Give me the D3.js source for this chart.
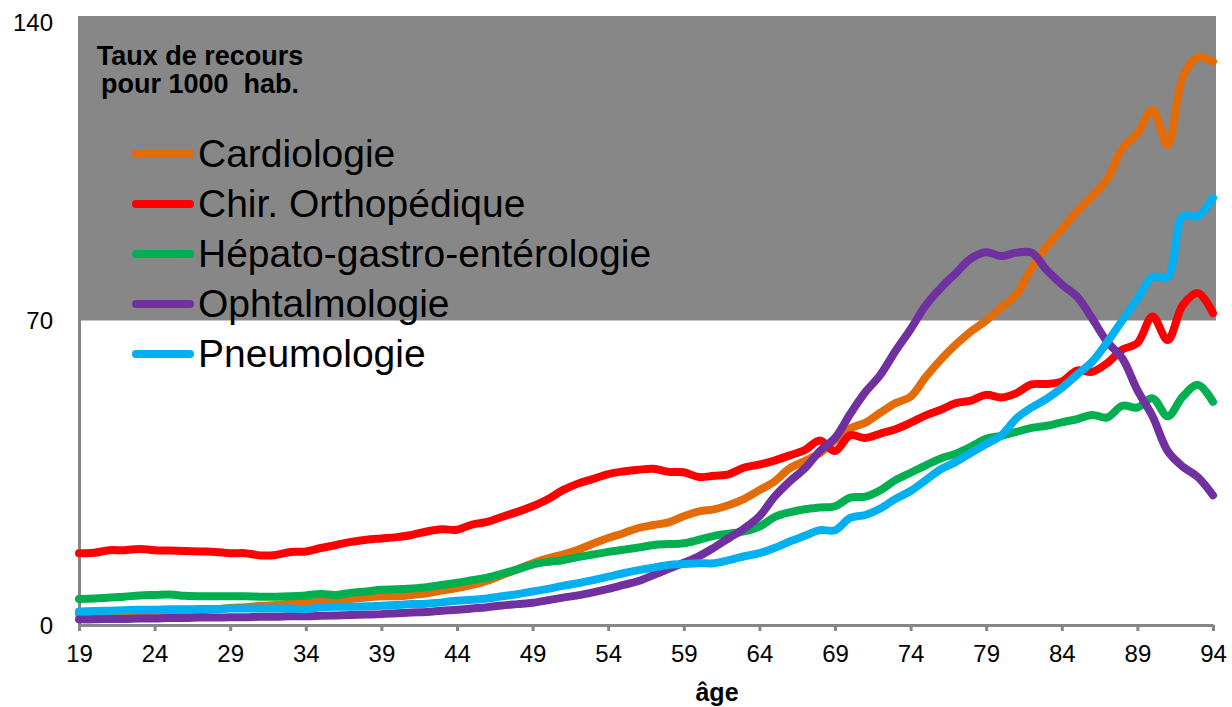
<!DOCTYPE html>
<html lang="fr">
<head>
<meta charset="UTF-8">
<title>Taux de recours par âge</title>
<script src="https://cdnjs.cloudflare.com/ajax/libs/d3/7.8.5/d3.min.js"></script>
<style>
    body { margin: 0; background: #fff; }
    svg { display: block; font-family: "Liberation Sans", Arial, sans-serif; }
</style>
</head>
<body>
<svg id="chart" width="1232" height="707"></svg>
<script>
// ages 19..94
const ages = d3.range(19, 95);

const cardiologie = [2.5, 2.6, 2.7, 2.8, 2.9, 3.0, 3.1, 3.2, 3.4, 3.6,
    3.9, 4.1, 4.4, 4.6, 4.9, 5.1, 5.4, 5.7, 6.0, 6.3,
    6.6, 6.6, 6.9, 7.3, 7.9, 8.5, 9.2, 10.2, 11.5, 12.8,
    14.2, 15.3, 16.2, 17.3, 18.7, 20.0, 21.1, 22.3, 23.0, 23.6,
    25.0, 26.1, 26.6, 27.6, 29.0, 31.0, 33.0, 36.0, 37.7, 39.5,
    42.5, 45.2, 46.5, 48.8, 51.0, 52.5, 57.0, 61.0, 64.5, 67.5,
    70.0, 73.0, 76.0, 82.0, 87.0, 91.0, 95.0, 98.5, 102.5, 109.5,
    113.0, 118.4, 110.3, 126.0, 130.5, 129.5];

const chirOrtho = [16.5, 16.6, 17.2, 17.2, 17.5, 17.2, 17.1, 17.0, 16.9, 16.8,
    16.5, 16.5, 16.0, 16.1, 16.8, 16.9, 17.7, 18.4, 19.1, 19.6,
    19.9, 20.2, 20.7, 21.5, 22.0, 21.9, 23.1, 23.7, 24.9, 26.0,
    27.3, 28.9, 31.0, 32.5, 33.6, 34.7, 35.3, 35.7, 35.9, 35.2,
    35.1, 34.0, 34.3, 34.7, 36.2, 36.9, 37.8, 39.0, 40.2, 42.4,
    40.0, 43.6, 43.0, 44.0, 45.0, 46.5, 48.2, 49.5, 51.0, 51.6,
    52.9, 52.3, 53.3, 55.3, 55.4, 56.0, 58.5, 58.2, 60.2, 63.3,
    64.8, 70.9, 65.5, 73.5, 76.3, 71.7];

const hepatoGastro = [6.0, 6.1, 6.3, 6.5, 6.8, 6.9, 7.0, 6.7, 6.6, 6.6,
    6.6, 6.6, 6.5, 6.5, 6.6, 6.8, 7.1, 6.9, 7.4, 7.7,
    8.1, 8.2, 8.4, 8.7, 9.2, 9.7, 10.3, 10.9, 11.8, 12.8,
    13.9, 14.5, 14.9, 15.6, 16.2, 16.8, 17.3, 17.8, 18.4, 18.6,
    18.8, 19.6, 20.5, 21.0, 21.5, 22.6, 24.8, 25.9, 26.6, 27.0,
    27.3, 29.3, 29.5, 31.0, 33.3, 35.0, 36.7, 38.3, 39.4, 41.0,
    42.8, 43.5, 44.4, 45.3, 45.8, 46.6, 47.3, 48.3, 47.7, 50.4,
    50.0, 52.1, 48.0, 52.5, 55.2, 51.3];

const ophtalmo = [1.3, 1.3, 1.4, 1.4, 1.5, 1.5, 1.6, 1.6, 1.7, 1.7,
    1.8, 1.8, 1.9, 1.9, 2.0, 2.0, 2.1, 2.2, 2.3, 2.4,
    2.5, 2.7, 2.9, 3.0, 3.3, 3.5, 3.8, 4.1, 4.5, 4.8,
    5.1, 5.7, 6.3, 6.8, 7.5, 8.3, 9.2, 10.1, 11.5, 12.9,
    14.3, 15.8, 17.8, 20.0, 22.2, 25.0, 29.5, 33.0, 36.0, 40.0,
    43.0, 48.5, 53.5, 57.5, 63.0, 68.0, 73.5, 77.5, 80.9, 84.3,
    85.7, 84.8, 85.6, 85.6, 81.6, 78.3, 75.5, 70.5, 65.1, 61.3,
    54.0, 48.0, 40.0, 36.4, 34.0, 29.8];

const pneumo = [3.1, 3.2, 3.3, 3.4, 3.5, 3.5, 3.6, 3.6, 3.7, 3.7,
    3.8, 3.8, 3.8, 3.8, 3.8, 3.6, 4.1, 4.2, 4.2, 4.3,
    4.4, 4.6, 4.8, 4.9, 5.2, 5.6, 5.8, 6.1, 6.6, 7.1,
    7.7, 8.3, 9.0, 9.6, 10.3, 11.1, 11.9, 12.6, 13.2, 13.8,
    14.0, 14.2, 14.2, 14.9, 15.8, 16.5, 17.7, 19.2, 20.5, 21.8,
    21.8, 24.6, 25.3, 26.8, 29.0, 30.8, 33.3, 35.8, 37.5, 39.6,
    41.6, 43.6, 47.5, 50.0, 52.0, 54.5, 57.5, 60.5, 65.0, 70.0,
    75.0, 80.0, 80.0, 94.0, 94.0, 98.2];

const seriesNames = ["Cardiologie", "Chir. Orthopédique", "Hépato-gastro-entérologie", "Ophtalmologie", "Pneumologie"];
const seriesColors = ["#E36C09", "#FF0000", "#00B050", "#7030A0", "#00B0F0"];
const seriesValues = [cardiologie, chirOrtho, hepatoGastro, ophtalmo, pneumo];

const xTicks = d3.range(19, 95, 5);
const yTicks = [0, 70, 140];

const svg = d3.select("#chart");

const x = d3.scaleLinear().domain([19, 94]).range([79, 1213]);
const y = d3.scaleLinear().domain([0, 140]).range([625, 16]);

// grey band 70-140
svg.append("rect")
    .attr("x", x(19) - 1)
    .attr("y", y(140))
    .attr("width", x(94) - x(19) + 4)
    .attr("height", y(70) - y(140))
    .attr("fill", "#878787");

// axes
const xAxis = svg.append("g")
    .attr("transform", `translate(0,${y(0)})`)
    .call(d3.axisBottom(x).tickValues(xTicks).tickFormat(d3.format("d")).tickSize(6).tickSizeOuter(0).tickPadding(14));
xAxis.select(".domain").attr("stroke", "#868686").attr("stroke-width", 3);
xAxis.selectAll(".tick line").attr("stroke", "#868686").attr("stroke-width", 3);
xAxis.selectAll("text").attr("font-size", 24).attr("fill", "#000").attr("font-family", "Liberation Sans, Arial, sans-serif");

const yAxis = svg.append("g")
    .attr("transform", `translate(${x(19)},0)`)
    .call(d3.axisLeft(y).tickValues(yTicks).tickSize(0).tickPadding(26));
yAxis.select(".domain").attr("stroke", "#868686").attr("stroke-width", 3);
yAxis.selectAll("text").attr("font-size", 24).attr("fill", "#000").attr("font-family", "Liberation Sans, Arial, sans-serif")
    .attr("dy", d => d === 140 ? "0.6em" : "0.35em");

// lines
const line = d3.line()
    .x((d, i) => x(ages[i]))
    .y(d => y(d))
    .curve(d3.curveCatmullRom.alpha(0.5));

svg.append("g")
    .selectAll("path")
    .data(seriesValues)
    .join("path")
    .attr("d", d => line(d))
    .attr("fill", "none")
    .attr("stroke", (d, i) => seriesColors[i])
    .attr("stroke-width", 8)
    .attr("stroke-linejoin", "round")
    .attr("stroke-linecap", "round");

// title inside grey area
const title = svg.append("text")
    .attr("font-weight", "bold")
    .attr("font-size", 27)
    .attr("text-anchor", "middle")
    .style("white-space", "pre");
title.append("tspan").attr("x", 200).attr("y", 65).text("Taux de recours");
title.append("tspan").attr("x", 200).attr("y", 93).text("pour 1000  hab.");

// legend
const legend = svg.append("g")
    .selectAll("g")
    .data(seriesNames)
    .join("g")
    .attr("transform", (d, i) => `translate(0,${154 + i * 50})`);

legend.append("line")
    .attr("x1", 136).attr("x2", 190)
    .attr("stroke", (d, i) => seriesColors[i])
    .attr("stroke-width", 8)
    .attr("stroke-linecap", "round");

legend.append("text")
    .attr("x", 198)
    .attr("y", 13)
    .attr("font-size", 39)
    .text(d => d);

// x axis title
svg.append("text")
    .attr("x", 717)
    .attr("y", 701)
    .attr("text-anchor", "middle")
    .attr("font-weight", "bold")
    .attr("font-size", 25)
    .text("âge");
</script>
</body>
</html>
